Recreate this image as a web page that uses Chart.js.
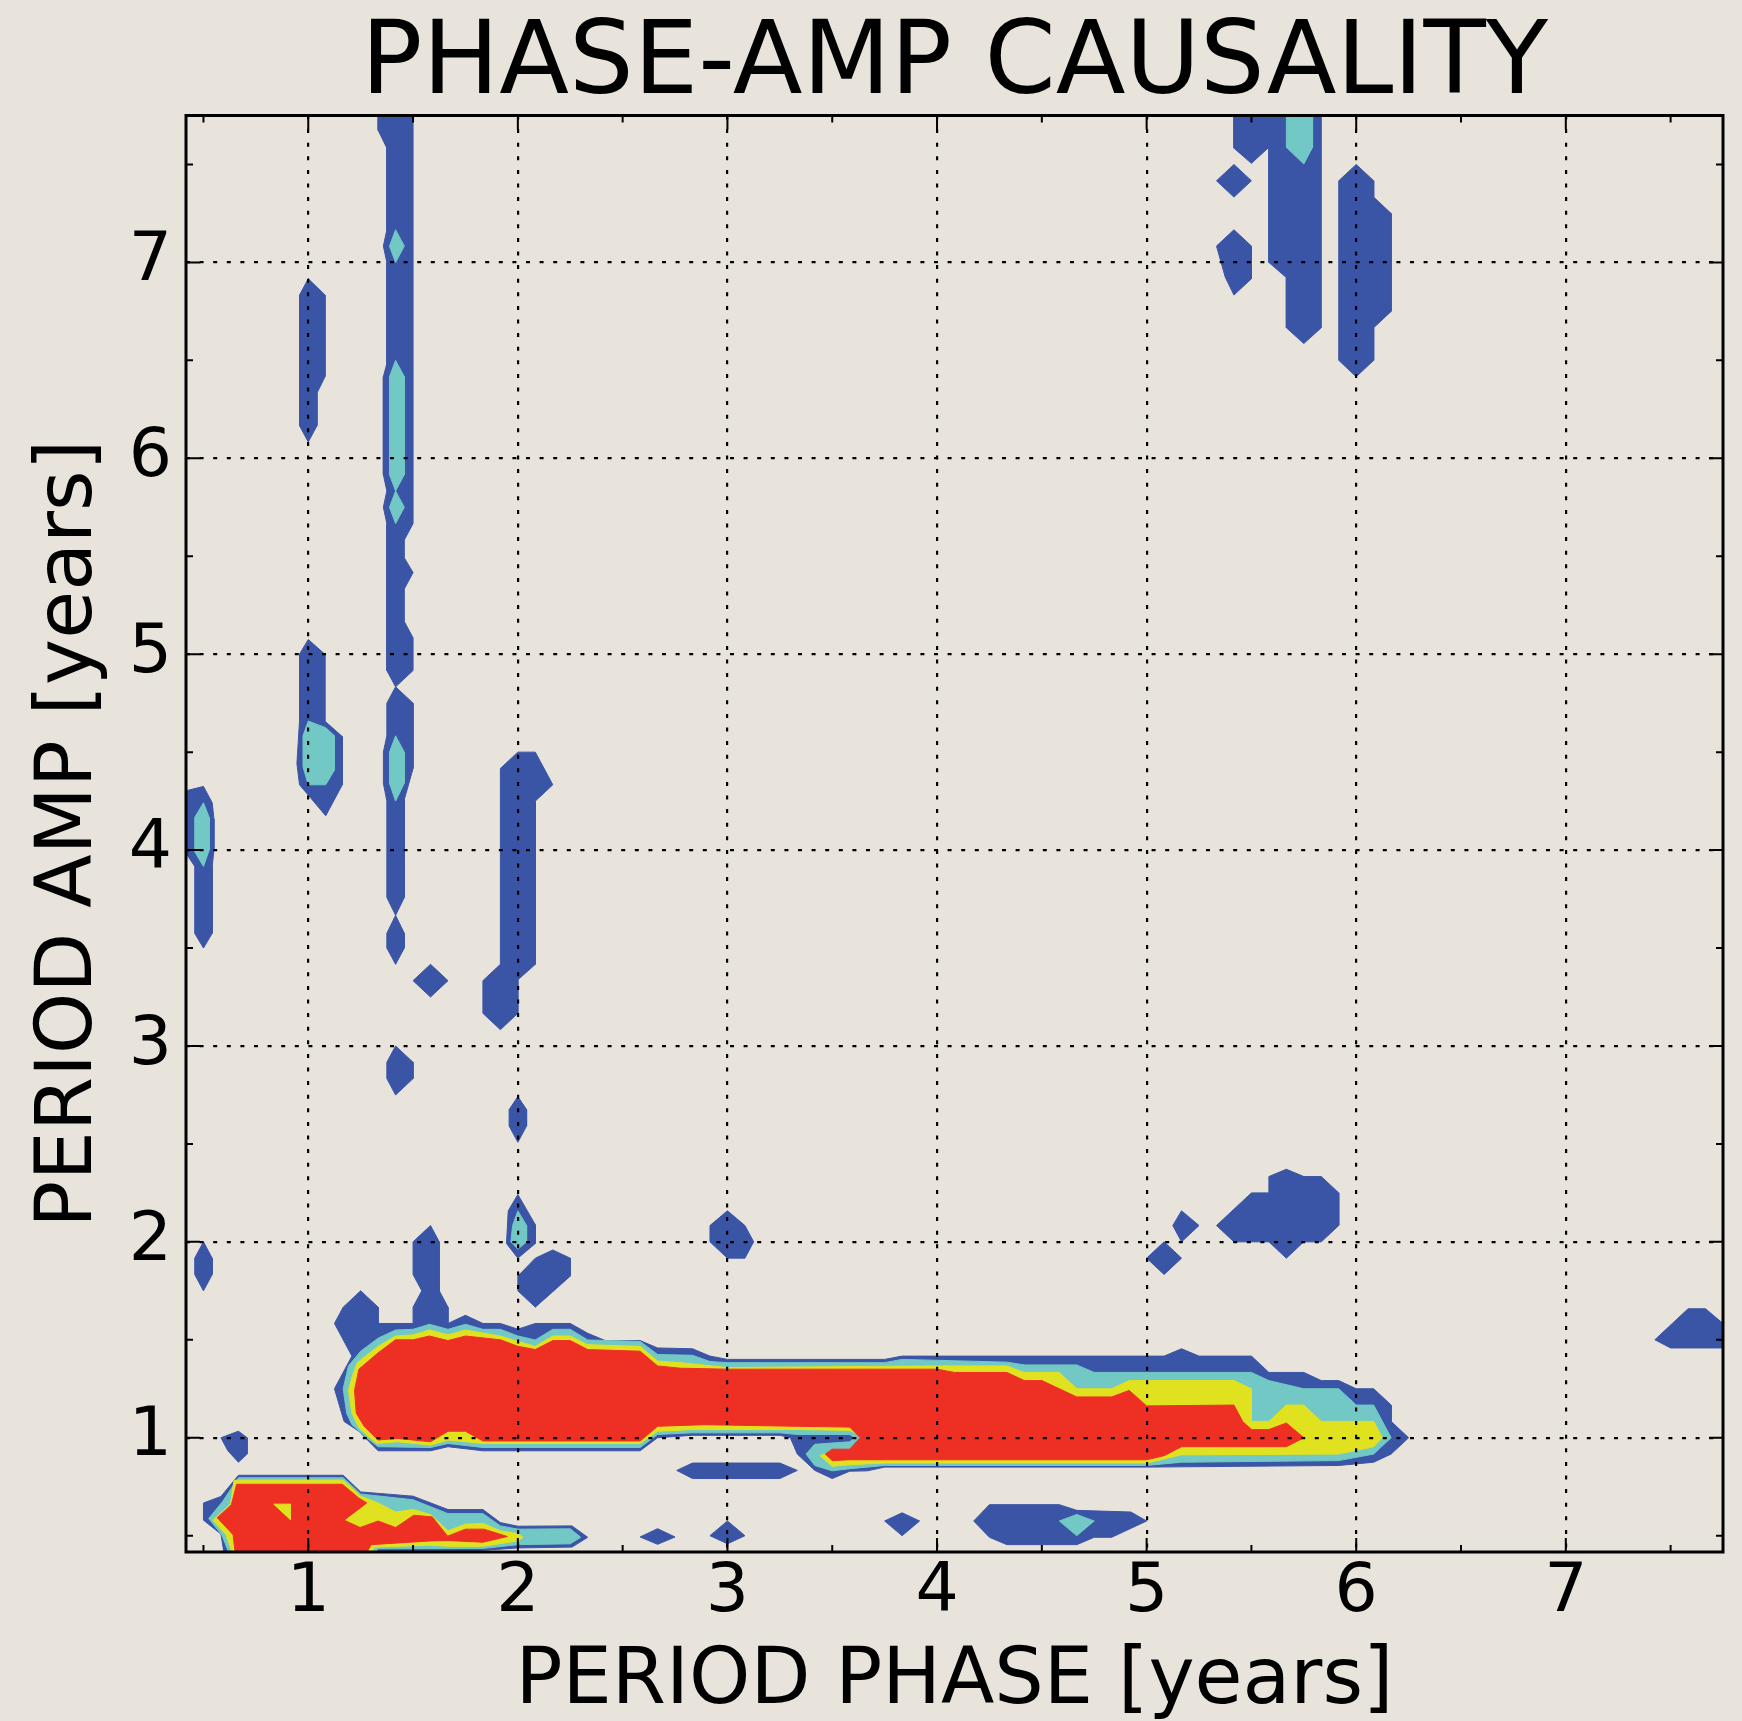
<!DOCTYPE html>
<html>
<head>
<meta charset="utf-8">
<title>Phase-amp causality</title>
<script src="https://cdn.jsdelivr.net/npm/chart.js@4.4.1/dist/chart.umd.min.js"></script>
<style>
  html, body { margin: 0; padding: 0; background: #e8e4dc; }
  #wrap { width: 1742px; height: 1721px; }
</style>
</head>
<body>
<div id="wrap"><canvas id="chartCausality" width="1742" height="1721"></canvas></div>
<script>
const FONT = "'DejaVu Sans', sans-serif";
const BG = '#e8e4dc';

// contour levels, lowest to highest
const levelColors = ['#3b55a6', '#72c8c5', '#e1e21f', '#ee3024'];

// axis ticks (years)
const xTicks = [1, 2, 3, 4, 5, 6, 7];
const yTicks = [1, 2, 3, 4, 5, 6, 7];
const minorTicks = [0.5, 1.5, 2.5, 3.5, 4.5, 5.5, 6.5, 7.5];
// periods run from 5 to 93 months
const periodRange = [5, 93];

// contour areas, vertices as [phase period, amp period] in months
const blueAreas = [
  // main band with its upper lobes
  [[13.5,15],[14.5,17],[13.5,19],[14,20],[15,21],[16,20],[16,19],[18,19],[18,20],[18.5,21],[18,22],[18,24],[19,25],[19.5,24],[19.5,21],[20,20],[20,19],[21,19.5],[22,19],[23,19],[24,18.65],[25,19],[27,19],[28,18.4],[29,17.95],[31,17.95],[32,17.5],[34,17.45],[35,17],[36,16.8],[45,16.8],[46,17],[61,17],[62,17.45],[63,17],[66,17],[67,16],[69,16],[70,15.5],[71,15.5],[72,15],[73,15],[74,14],[74,13],[75,12],[74,11],[73,10.5],[71,10.3],[60,10.2],[45,10.2],[44,9.97],[43,9.95],[42,9.5],[41,10],[40,11],[39.6,12],[39,12.15],[34,12.15],[32,12],[31,11.2],[22,11.2],[20,11.45],[19,11.2],[16,11.2],[14.9,12.4],[14.05,13]],
  // bottom-left patch
  [[6,8],[7,8.4],[8,9.7],[14,9.7],[15,8.68],[18,8.42],[20,7.6],[22,7.6],[23,6.8],[24,6.58],[27.1,6.6],[28,5.9],[27.1,5.3],[24,5.25],[22,5.1],[16,5.05],[15,4.5],[7.2,4.5],[7.15,5.1],[7,6.1],[6,6.95]],
  [[6,24],[6.5,23],[6.5,22],[6,21],[5.5,22],[5.5,23]],
  [[7,12],[8,12.4],[8.5,12],[8.5,11],[8,10.5],[7.4,11.2]],
  [[33.1,10],[34,10.45],[39,10.45],[40,10],[39,9.5],[34,9.5]],
  [[31,5.92],[32,6.43],[33,5.92],[32,5.47]],
  [[35,6],[36,6.9],[37,6],[36,5.5]],
  [[45,6.9],[46,7.4],[47,6.9],[46,6]],
  [[50.1,6.9],[51,7.9],[55,7.9],[56,7.55],[59.1,7.45],[60,6.9],[58,5.9],[57,5.9],[56,5.45],[52,5.45],[51,5.9]],
  [[35,25],[36,25.9],[37,25],[37.5,24],[37,23],[36,23],[35,24]],
  [[60,23],[61,24],[62,23],[61,22]],
  [[61.5,25],[62,25.9],[63,25],[62,24]],
  [[64,25],[66,27],[67,27],[67,28],[68,28.45],[69,28],[70,28],[71,27],[71,25],[70,24],[69,24],[68,23],[67,24],[65,24]],
  [[89.1,18],[91,19.9],[92,19.9],[93,19],[94,19],[94,17.5],[90,17.5]],
  [[24,26.9],[25,25.05],[25,23.9],[24,23],[23.35,23.9],[23.45,25.9]],
  [[24,21.9],[25,23],[26,23.5],[27,23],[27,21.9],[25,20],[24,21]],
  [[23,53],[24,54],[25,54],[26,52],[25,51],[25,41],[24,40.05],[24,38],[23,37],[22,38],[22,40],[23,41]],
  [[24,32.9],[24.5,32.1],[24.5,31.1],[24,30.1],[23.5,31.1],[23.5,32.1]],
  [[17,36],[18,35],[18,34],[17,33],[16.5,34],[16.5,35]],
  [[19,41],[20,40],[19,39],[18,40]],
  [[17,44],[17.5,42.9],[17.5,42],[17,41],[16.5,42],[16.5,42.9]],
  [[17,58],[18,57],[18,53],[17.5,51.1],[17.5,45.1],[17,44],[16.5,45.1],[16.5,51],[16.3,52.1],[16.3,54],[16.5,55],[16.5,57]],
  [[16,94],[16,92.1],[16.5,91],[16.5,86],[16.3,85],[16.5,84],[16.5,77.8],[16.3,77],[16.3,71],[16.5,70],[16.3,69],[16.5,68],[16.5,59],[17,58],[18,59],[18,61],[17.5,62],[17.5,64],[18,65],[17.5,65.9],[17.5,67],[18,68],[18,94]],
  [[11.5,82],[12,83],[12.96,82],[12.96,77],[12.5,76],[12.5,74],[12,73],[11.5,74]],
  [[11.5,60],[12,60.9],[12.95,60],[12.95,55.9],[13.95,54.95],[13.95,52],[13,50.1],[11.5,52],[11.35,53.3],[11.5,55.9]],
  [[4.5,51.5],[6,51.9],[6.5,50.9],[6.6,49.9],[6.6,48],[6.5,47],[6.5,42.9],[6,42],[5.5,42.9],[5.5,47],[5,47.8],[4.5,48]],
  [[65,94],[65,91],[66,90.07],[67,91.05],[67,84],[68,83.07],[68,80],[69,79.03],[70,80],[70,94]],
  [[64,89],[65,90],[66,89],[65,88]],
  [[64,85],[65,86],[66,85],[66,83],[65,82],[64.5,83.1]],
  [[71,89],[72,90],[73,89],[73,88],[74,87],[74,81],[73,80],[73,78],[72,77],[71,78]]
];

const cyanAreas = [
  [[14,15],[14.3,16.4],[15,17.3],[16,18.1],[17,18.6],[18,18.64],[18.94,18.95],[20,18.64],[21,18.95],[22,18.64],[23,18.64],[24,18.23],[25,17.99],[26,18.64],[27,18.64],[28,17.99],[31,17.9],[32,17.1],[34,17.05],[35,16.67],[36,16.6],[45,16.6],[46,16.8],[52,16.63],[53,16.46],[56,16.46],[57,16],[66,16],[67,15.5],[69,15],[71,15],[72,14],[73,14],[74,12],[73,11],[71,10.6],[62,10.5],[60,10.3],[45,10.3],[43,10.1],[42,9.97],[41,10.3],[40.5,11],[41,11.6],[43,11.75],[43.3,12],[43,12.2],[40,12.2],[39,12.3],[34,12.3],[32,12.2],[31,11.4],[22,11.4],[20,11.65],[19,11.4],[16,11.45],[15.4,11.95],[14.5,12.8],[14.2,13.5]],
  [[6.3,7.05],[7.1,8.1],[8,9.55],[14,9.55],[15,8.55],[18,8.2],[20,7.35],[22,7.35],[23,6.6],[24,6.4],[27,6.42],[27.6,5.9],[27,5.5],[24,5.45],[22,5.22],[16,5.2],[15.4,4.5],[7.4,4.5],[7.4,5.1],[7.05,6.05]],
  [[24,25.9],[24.5,25],[24.5,24],[24,23.55],[23.6,24],[23.7,25]],
  [[55,6.9],[56,7.3],[57,6.9],[56,6]],
  [[5.5,50],[6,50.9],[6.33,50],[6.33,48],[6,47],[5.5,47.9]],
  [[12,55.9],[13,55.5],[13.5,55],[13.5,52.9],[13,52],[12,52],[11.7,53.1],[11.7,55]],
  [[17,55],[17.5,54],[17.5,52.1],[17,51],[16.65,52.1],[16.65,54]],
  [[17,86],[17.5,85],[17,84],[16.65,85]],
  [[17,78],[17.5,77],[17.5,71],[17,70],[16.65,71],[16.65,77]],
  [[17,70],[17.5,69],[17,68],[16.65,69]],
  [[68,94],[69.5,94],[69.5,91.05],[69,90.03],[68,91.05]]
];

const yellowAreas = [
  [[14.3,14.9],[14.5,15.7],[14.8,16.6],[16,17.6],[17,18.23],[18,18.3],[18.94,18.6],[20,18.3],[21,18.6],[23,18.23],[24,17.9],[25,17.6],[26,18.23],[27,18.23],[28,17.7],[31,17.6],[32,16.7],[33.3,16.6],[36,16.3],[48,16.4],[52,16.4],[53,16],[55,16],[56,15],[58,15],[59,15.5],[65,15.5],[66,15],[66,13],[67,13],[68,14],[69,14],[70,13],[73,13],[73.5,12],[73,11.45],[71,11],[62,10.95],[61,10.7],[60,10.45],[45,10.45],[43,10.35],[42,10.25],[41.3,10.9],[42,11.15],[43,11.15],[43.9,12],[43,12.45],[40,12.5],[34,12.5],[32,12.4],[31,11.65],[22,11.65],[20,11.86],[19,11.55],[17.1,11.75],[15.9,11.65],[14.9,12.6],[14.5,13.5]],
  [[6.55,6.95],[7.55,7.95],[7.75,9.4],[14,9.4],[15,8.42],[16,8.0],[17,7.45],[18,7.6],[19,7.3],[20,6.3],[21,6.7],[22,6.75],[23,6.3],[24,6.12],[24.3,5.9],[24,5.68],[22,5.35],[20,5.35],[19,5.42],[15.8,5.3],[15.3,4.5],[7.6,4.5],[7.6,5.1],[7.3,6.05]]
];

const redAreas = [
  [[14.65,14.9],[14.9,16.2],[16,17.2],[17,18],[18,18],[18.94,18.23],[20,17.95],[21,18.23],[23,18],[24,17.6],[25,17.4],[26,17.95],[27,17.95],[28,17.4],[31,17.3],[32,16.4],[33.3,16.26],[36,16.2],[48,16.2],[49,16],[52,16],[53,15.5],[54,15.5],[56,14.5],[58,14.5],[59,14.9],[60,13.95],[65,14],[65.5,13],[66,12.5],[67,12.5],[68,12.9],[69,12],[68,11.45],[62,11.45],[61,10.9],[60,10.65],[43,10.65],[42,10.6],[41.6,11],[42,11.3],[43,11.3],[43.6,12],[43,12.65],[40,12.7],[34.7,12.8],[32,12.7],[31,11.8],[22,11.8],[21,12.4],[20,12.4],[19,11.75],[17.1,11.96],[16,11.86],[15.2,12.7],[14.75,13.5]],
  [[6.79,7.1],[7.6,7.9],[7.9,9.15],[13.95,9.15],[14.9,8.3],[15.35,8.0],[14.05,6.95],[14.97,6.5],[16,6.9],[17,6.5],[18.04,7.25],[19.1,7.15],[19.98,5.97],[21,6.4],[22.05,6.4],[23.4,5.95],[22,5.6],[20,5.7],[19,5.68],[15.6,5.45],[15.1,4.5],[7.85,4.5],[7.8,5.1],[7.7,6.05]]
];

// small dips inside the strongest area
const redDips = [
  [[10.02,7.93],[10.97,7.93],[10.97,6.99]]
];

const toYears = poly => poly.concat([poly[0]]).map(([x, y]) => ({ x: x / 12, y: y / 12 }));

const layers = [
  [blueAreas, levelColors[0]],
  [cyanAreas, levelColors[1]],
  [yellowAreas, levelColors[2]],
  [redAreas, levelColors[3]],
  [redDips, levelColors[2]]
];

const datasets = [];
layers.forEach(([polys, color]) => {
  polys.forEach(poly => {
    datasets.push({
      data: toYears(poly),
      backgroundColor: color,
      borderColor: color,
      borderWidth: 1,
      fill: 'shape',
      pointRadius: 0,
      tension: 0
    });
  });
});
// later areas paint over earlier ones
datasets.forEach((d, i) => { d.order = datasets.length - i; });

const background = {
  id: 'background',
  beforeDraw(chart) {
    const { ctx, width, height } = chart;
    ctx.save();
    ctx.fillStyle = BG;
    ctx.fillRect(0, 0, width, height);
    ctx.restore();
  }
};

// black frame with inward ticks on all four sides
const frameTicks = {
  id: 'frameTicks',
  afterDraw(chart) {
    const { ctx, chartArea: a, scales: { x, y } } = chart;
    ctx.save();
    ctx.strokeStyle = '#000';
    ctx.lineWidth = 2;
    ctx.beginPath();
    const marks = (vals, len) => {
      vals.forEach(v => {
        const px = x.getPixelForValue(v);
        ctx.moveTo(px, a.bottom); ctx.lineTo(px, a.bottom - len);
        ctx.moveTo(px, a.top); ctx.lineTo(px, a.top + len);
        const py = y.getPixelForValue(v);
        ctx.moveTo(a.left, py); ctx.lineTo(a.left + len, py);
        ctx.moveTo(a.right, py); ctx.lineTo(a.right - len, py);
      });
    };
    marks(xTicks, 14);
    marks(minorTicks, 7);
    ctx.stroke();
    ctx.lineWidth = 3;
    ctx.strokeRect(a.left, a.top, a.right - a.left, a.bottom - a.top);
    ctx.restore();
  }
};

const axisBase = {
  type: 'linear',
  min: periodRange[0] / 12,
  max: periodRange[1] / 12,
  grid: { color: '#000', lineWidth: 2.2, drawTicks: false, z: 1 },
  border: { display: false, dash: [4, 9.6] },
  ticks: { color: '#000', font: { family: FONT, size: 68, lineHeight: 1 }, maxRotation: 0 }
};

new Chart(document.getElementById('chartCausality'), {
  type: 'line',
  data: { datasets },
  options: {
    responsive: false,
    animation: false,
    events: [],
    layout: { padding: { left: 0, right: 19, top: 0, bottom: 0 } },
    plugins: {
      legend: { display: false },
      tooltip: { enabled: false },
      title: {
        display: true,
        fullSize: false,
        text: 'PHASE-AMP CAUSALITY',
        color: '#000',
        font: { family: FONT, size: 102, weight: 'normal', lineHeight: 1 },
        padding: { top: 15, bottom: -1.5 }
      }
    },
    scales: {
      x: {
        ...axisBase,
        position: 'bottom',
        afterBuildTicks: s => { s.ticks = xTicks.map(v => ({ value: v })); },
        afterFit: s => { s.height = 169; },
        ticks: { ...axisBase.ticks, padding: 7 },
        title: {
          display: true,
          text: 'PERIOD PHASE [years]',
          color: '#000',
          font: { family: FONT, size: 78, lineHeight: 1 },
          padding: { top: 0, bottom: -1 }
        }
      },
      y: {
        ...axisBase,
        position: 'left',
        afterBuildTicks: s => { s.ticks = yTicks.map(v => ({ value: v })); },
        afterFit: s => { s.width = 186; },
        ticks: { ...axisBase.ticks, padding: 14 },
        title: {
          display: true,
          text: 'PERIOD AMP [years]',
          color: '#000',
          font: { family: FONT, size: 78, lineHeight: 1 },
          padding: { top: 32, bottom: 0 }
        }
      }
    }
  },
  plugins: [background, frameTicks]
});
</script>
</body>
</html>
